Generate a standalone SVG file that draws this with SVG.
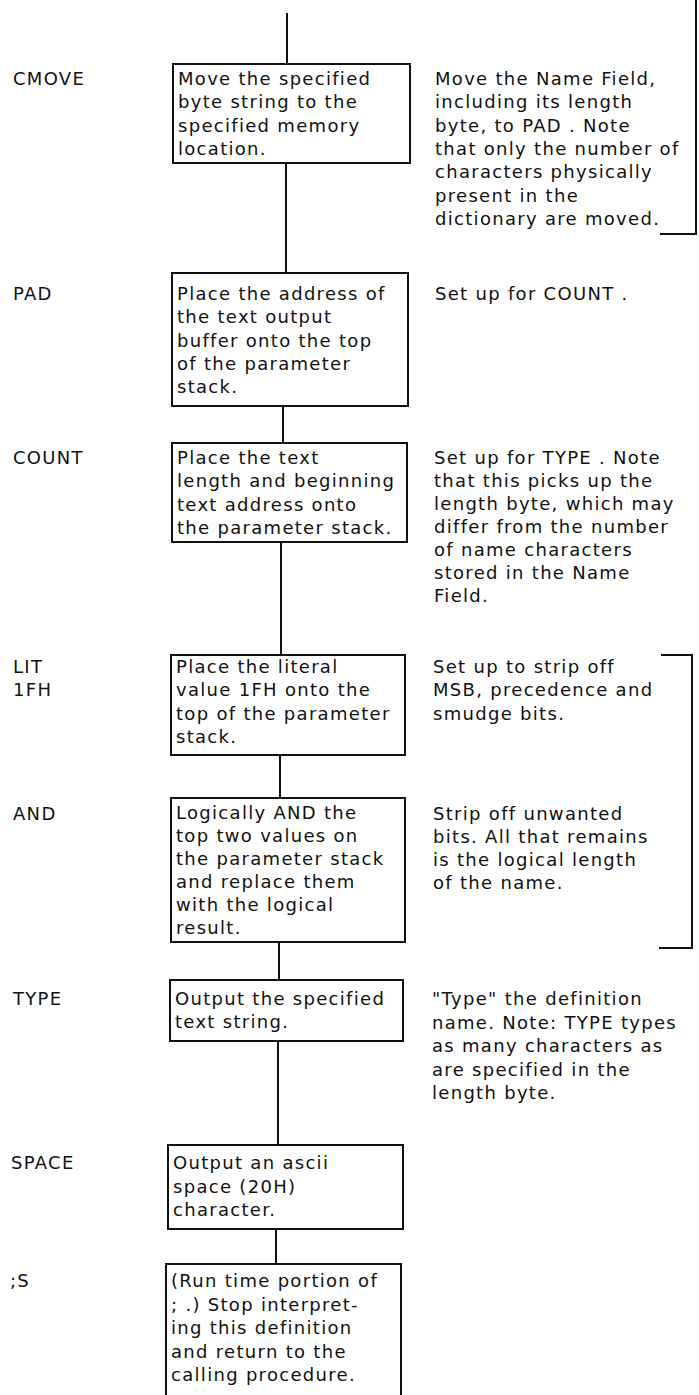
<svg xmlns="http://www.w3.org/2000/svg" width="699" height="1395" viewBox="0 0 699 1395">
<style>
.t{font-family:"DejaVu Sans",Verdana,sans-serif;font-size:18px;letter-spacing:1.3px;fill:#111}
.box{fill:#fff;stroke:#111;stroke-width:2}
.ln{stroke:#111;stroke-width:2;fill:none}
</style>
<rect width="699" height="1395" fill="#fff"/>
<g id="connectors">
<line class="ln" x1="287" y1="13" x2="287" y2="64"/>
<line class="ln" x1="286" y1="163" x2="286" y2="273"/>
<line class="ln" x1="283" y1="406" x2="283" y2="443"/>
<line class="ln" x1="281" y1="542" x2="281" y2="655"/>
<line class="ln" x1="280" y1="755" x2="280" y2="798"/>
<line class="ln" x1="279" y1="942" x2="279" y2="980"/>
<line class="ln" x1="278" y1="1041" x2="278" y2="1145"/>
<line class="ln" x1="276" y1="1229" x2="276" y2="1264"/>
</g>
<g id="brackets">
<path class="ln" d="M696 0 V234 H660"/>
<path class="ln" d="M661 655 H692 V948 H659"/>
</g>
<g id="cmove">
<text class="t" x="13" y="85">CMOVE</text>
<rect class="box" x="173" y="64" width="237" height="99"/>
<text class="t" x="178" y="85"><tspan x="178">Move the specified</tspan><tspan x="178" dy="23.3">byte string to the</tspan><tspan x="178" dy="23.3">specified memory</tspan><tspan x="178" dy="23.3">location.</tspan></text>
<text class="t" x="435" y="85"><tspan x="435">Move the Name Field,</tspan><tspan x="435" dy="23.3">including its length</tspan><tspan x="435" dy="23.3">byte, to PAD .  Note</tspan><tspan x="435" dy="23.3">that only the number of</tspan><tspan x="435" dy="23.3">characters physically</tspan><tspan x="435" dy="23.3">present in the</tspan><tspan x="435" dy="23.3">dictionary are moved.</tspan></text>
</g>
<g id="pad">
<text class="t" x="13" y="300">PAD</text>
<rect class="box" x="172" y="273" width="236" height="133"/>
<text class="t" x="177" y="300"><tspan x="177">Place the address of</tspan><tspan x="177" dy="23.3">the text output</tspan><tspan x="177" dy="23.3">buffer onto the top</tspan><tspan x="177" dy="23.3">of the parameter</tspan><tspan x="177" dy="23.3">stack.</tspan></text>
<text class="t" x="435" y="300">Set up for COUNT .</text>
</g>
<g id="count">
<text class="t" x="13" y="464">COUNT</text>
<rect class="box" x="172" y="443" width="235" height="99"/>
<text class="t" x="177" y="464"><tspan x="177">Place the text</tspan><tspan x="177" dy="23.3">length and beginning</tspan><tspan x="177" dy="23.3">text address onto</tspan><tspan x="177" dy="23.3">the parameter stack.</tspan></text>
<text class="t" x="434" y="464"><tspan x="434">Set up for TYPE .  Note</tspan><tspan x="434" dy="23">that this picks up the</tspan><tspan x="434" dy="23">length byte, which may</tspan><tspan x="434" dy="23">differ from the number</tspan><tspan x="434" dy="23">of name characters</tspan><tspan x="434" dy="23">stored in the Name</tspan><tspan x="434" dy="23">Field.</tspan></text>
</g>
<g id="lit">
<text class="t" x="13" y="673"><tspan x="13">LIT</tspan><tspan x="13" dy="23.3">1FH</tspan></text>
<rect class="box" x="171" y="655" width="234" height="100"/>
<text class="t" x="176" y="673"><tspan x="176">Place the literal</tspan><tspan x="176" dy="23.3">value 1FH onto the</tspan><tspan x="176" dy="23.3">top of the parameter</tspan><tspan x="176" dy="23.3">stack.</tspan></text>
<text class="t" x="433" y="673"><tspan x="433">Set up to strip off</tspan><tspan x="433" dy="23.3">MSB, precedence and</tspan><tspan x="433" dy="23.3">smudge bits.</tspan></text>
</g>
<g id="and">
<text class="t" x="13" y="820">AND</text>
<rect class="box" x="171" y="798" width="234" height="144"/>
<text class="t" x="176" y="819"><tspan x="176">Logically AND the</tspan><tspan x="176" dy="23">top two values on</tspan><tspan x="176" dy="23">the parameter stack</tspan><tspan x="176" dy="23">and replace them</tspan><tspan x="176" dy="23">with the logical</tspan><tspan x="176" dy="23">result.</tspan></text>
<text class="t" x="433" y="820"><tspan x="433">Strip off unwanted</tspan><tspan x="433" dy="23">bits. All that remains</tspan><tspan x="433" dy="23">is the logical length</tspan><tspan x="433" dy="23">of the name.</tspan></text>
</g>
<g id="type">
<text class="t" x="13" y="1005">TYPE</text>
<rect class="box" x="170" y="980" width="233" height="61"/>
<text class="t" x="175" y="1005"><tspan x="175">Output the specified</tspan><tspan x="175" dy="22.5">text string.</tspan></text>
<text class="t" x="432" y="1005"><tspan x="432">"Type" the definition</tspan><tspan x="432" dy="23.5">name. Note: TYPE types</tspan><tspan x="432" dy="23.5">as many characters as</tspan><tspan x="432" dy="23.5">are specified in the</tspan><tspan x="432" dy="23.5">length byte.</tspan></text>
</g>
<g id="space">
<text class="t" x="11" y="1169">SPACE</text>
<rect class="box" x="168" y="1145" width="235" height="84"/>
<text class="t" x="173" y="1169"><tspan x="173">Output an ascii</tspan><tspan x="173" dy="23.5">space (20H)</tspan><tspan x="173" dy="23.5">character.</tspan></text>
</g>
<g id="semis">
<text class="t" x="10" y="1287">;S</text>
<path class="ln" d="M166 1400 V1264 H401 V1400"/>
<text class="t" x="171" y="1287"><tspan x="171">(Run time portion of</tspan><tspan x="171" dy="23.5">; .) Stop interpret-</tspan><tspan x="171" dy="23.5">ing this definition</tspan><tspan x="171" dy="23.5">and return to the</tspan><tspan x="171" dy="23.5">calling procedure.</tspan></text>
</g>
</svg>
